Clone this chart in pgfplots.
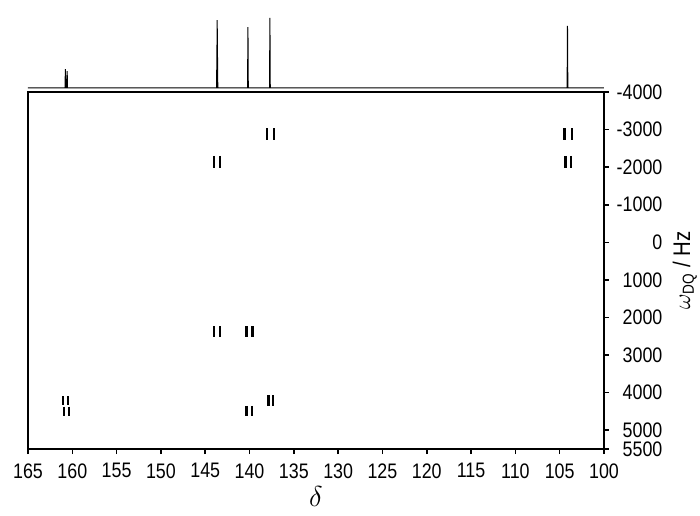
\documentclass[border=0pt]{standalone}
\usepackage{fontspec}
\setmainfont{Liberation Sans}[FakeStretch=0.85]
\usepackage{pgfplots}
\pgfplotsset{compat=1.18}

\begin{document}
\begin{tikzpicture}
\fontsize{10.5}{12}\selectfont
% 1px of the reference = 0.5pt here
\begin{axis}[
    name=main,
    at={(14pt,33pt)}, anchor=south west,
    scale only axis, width=288pt, height=178.5pt,
    x dir=reverse, y dir=reverse,
    xmin=100, xmax=165, ymin=-4000, ymax=5500,
    xtick={100,105,...,165},
    ytick={-4000,-3000,-2000,-1000,0,1000,2000,3000,4000,5000,5500},
    yticklabels={-4000,-3000,-2000,-1000,0,1000,2000,3000,4000,5000,5500},
    xtick pos=bottom, ytick pos=right,
    yticklabel pos=right,
    tick align=outside,
    major tick length=2.5pt,
    axis line style={line width=0.8pt},
    every tick/.style={black, line width=0.8pt},
    /pgf/number format/assume math mode=true,
    tick label style={font=\fontsize{10.5}{12}\selectfont},
    yticklabel style={anchor=west, text width=25pt, align=right, inner xsep=1.5pt, inner ysep=0pt},
    xticklabel style={yshift=-1pt},
    xlabel={\fontsize{14}{16}\selectfont$\delta$},
    xlabel style={yshift=3pt},
    ylabel={$\omega$\textsubscript{DQ} / Hz},
    ylabel style={font=\fontsize{12}{14}\selectfont},
    unbounded coords=jump,
]
% cross peaks: vertical bars (x = shift, y from .. to)
\addplot[black, line width=1.2pt] coordinates {
(138.03,-3030) (138.03,-2720) (0,nan)
(137.24,-3030) (137.24,-2720) (0,nan)
(104.45,-3030) (104.45,-2720) (0,nan)
(103.63,-3030) (103.63,-2720) (0,nan)
(143.98,-2300) (143.98,-1980) (0,nan)
(143.30,-2300) (143.30,-1980) (0,nan)
(104.35,-2300) (104.35,-1980) (0,nan)
(103.70,-2300) (103.70,-1980) (0,nan)
(143.98,2230) (143.98,2530) (0,nan)
(143.30,2230) (143.30,2530) (0,nan)
(140.32,2230) (140.32,2530) (0,nan)
(139.65,2230) (139.65,2530) (0,nan)
(161.08,4090) (161.08,4330) (0,nan)
(160.49,4090) (160.49,4330) (0,nan)
(137.84,4070) (137.84,4350) (0,nan)
(137.32,4070) (137.32,4350) (0,nan)
(160.94,4370) (160.94,4610) (0,nan)
(160.34,4370) (160.34,4610) (0,nan)
(140.32,4350) (140.32,4630) (0,nan)
(139.72,4350) (139.72,4630)
};
\end{axis}

% 1D projection above the 2D map
\begin{axis}[
    at={(14pt,213.5pt)}, anchor=south west,
    scale only axis, width=288pt, height=35pt,
    x dir=reverse, xmin=100, xmax=165, ymin=0, ymax=1,
    hide axis, clip=false,
]
\addplot[black, line width=0.5pt] coordinates {
(165,0) (160.82,0) (160.78,0.27) (160.74,0) (160.62,0) (160.58,0.24) (160.54,0)
(143.72,0) (143.67,0.63) (143.65,0.97) (143.63,0.63) (143.58,0)
(140.22,0) (140.18,0.87) (140.14,0)
(137.74,0) (137.70,1.0) (137.66,0)
(104.16,0) (104.12,0.886) (104.08,0)
(100,0)
};
\end{axis}
\pgfresetboundingbox
\path (0,0) rectangle (350pt,257.5pt);
\end{tikzpicture}
\end{document}
